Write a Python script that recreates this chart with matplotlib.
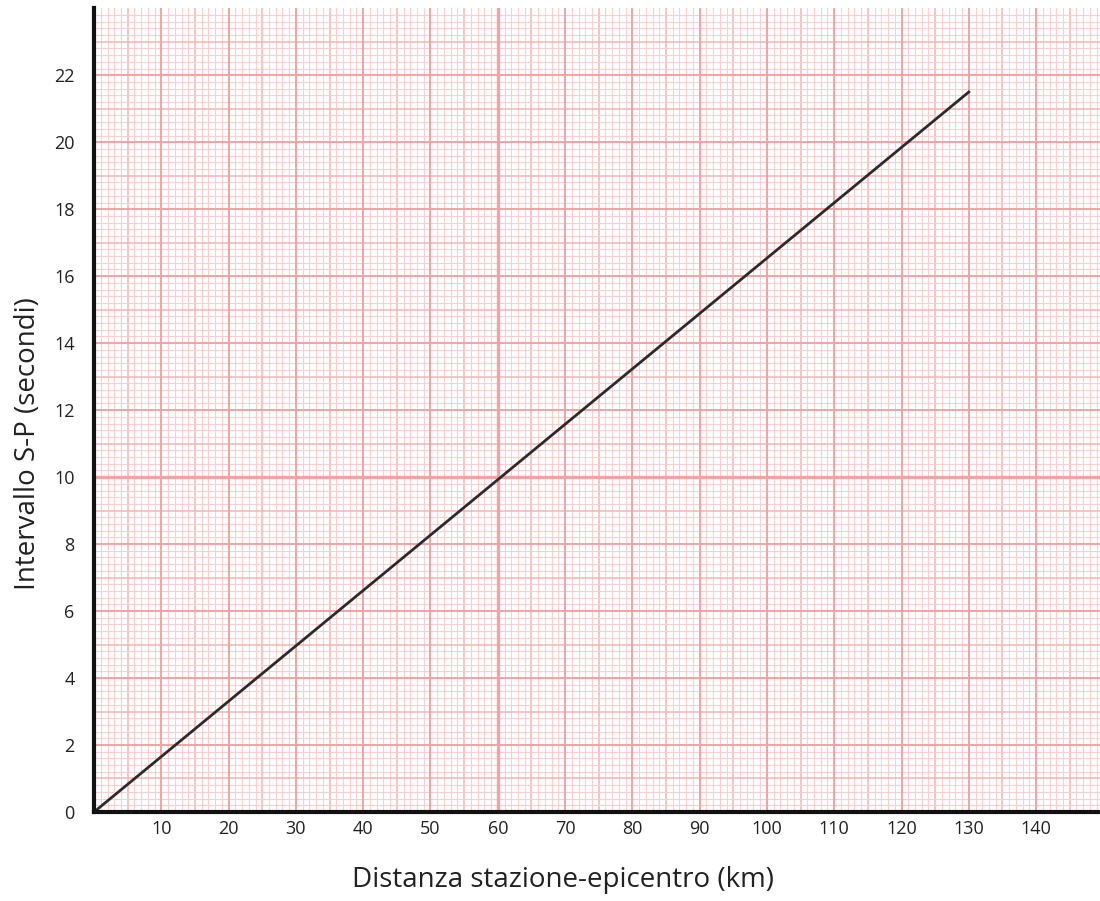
import matplotlib
matplotlib.use("Agg")
import matplotlib.pyplot as plt
import numpy as np

distance_km = [0, 130]
sp_interval_s = [0, 21.5]
x_tick_values = [10, 20, 30, 40, 50, 60, 70, 80, 90, 100, 110, 120, 130, 140]
y_tick_values = [0, 2, 4, 6, 8, 10, 12, 14, 16, 18, 20, 22]

plt.rcParams['font.family'] = ['Open Sans', 'DejaVu Sans']

fig = plt.figure(figsize=(11, 9.01), dpi=100)
ax = fig.add_axes([0.0855, 0.0988, 0.9145, 0.892])
ax.set_xlim(0, 149.5)
ax.set_ylim(0, 24)

# graph paper grid
for xv in np.arange(1, 150, 1):
    if xv % 10 == 0:
        continue
    c, lw = ('#f7b4b4', 1.1) if xv % 5 == 0 else ('#fbcfcf', 0.8)
    ax.axvline(xv, color=c, lw=lw, zorder=0)
for yv in np.arange(0.2, 24, 0.2):
    r = round(yv / 0.2)
    if r % 10 == 0:
        continue
    c, lw = ('#f7b4b4', 1.1) if r % 5 == 0 else ('#fbcfcf', 0.8)
    ax.axhline(yv, color=c, lw=lw, zorder=0)
for xv in range(10, 150, 10):
    ax.axvline(xv, color='#f5a2a2', lw=2.4 if xv == 60 else 1.4, zorder=1)
for yv in range(2, 24, 2):
    ax.axhline(yv, color='#f5a2a2', lw=2.4 if yv == 10 else 1.4, zorder=1)

ax.plot(distance_km, sp_interval_s, color='#2b2b2b', lw=2.0, zorder=3)

ax.set_xticks(x_tick_values)
ax.set_yticks(y_tick_values)
ax.tick_params(length=0, labelsize=13, colors='#222222')
ax.tick_params(axis='x', pad=6)
ax.tick_params(axis='y', pad=14)
for s in ['top', 'right']:
    ax.spines[s].set_visible(False)
for s in ['left', 'bottom']:
    ax.spines[s].set_linewidth(3)
    ax.spines[s].set_color('#111111')
    ax.spines[s].set_zorder(5)

xl = ax.set_xlabel('Distanza stazione-epicentro (km)', fontsize=20, color='#222222', va='center')
yl = ax.set_ylabel('Intervallo S-P (secondi)', fontsize=20, color='#222222', va='center')
ax.xaxis.set_label_coords(0.466, -0.0846)
ax.yaxis.set_label_coords(-0.0657, 0.459)

fig.savefig('out.png', dpi=100)
